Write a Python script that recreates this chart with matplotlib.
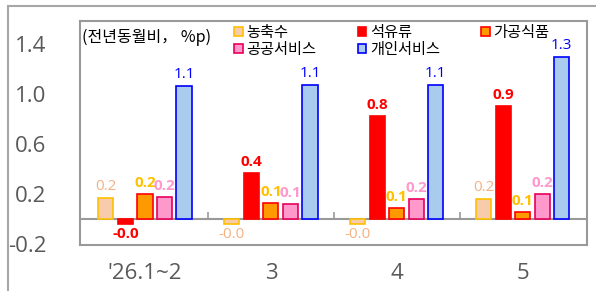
import numpy as np
import matplotlib
matplotlib.use("Agg")
import matplotlib.pyplot as plt
from matplotlib.patches import Rectangle, Patch

plt.rcParams['font.family'] = ['Noto Sans CJK KR', 'DejaVu Sans']
num_font = ['Open Sans', 'DejaVu Sans']

categories = ["'26.1~2", "3", "4", "5"]
series = ["농축수", "석유류", "가공식품", "공공서비스", "개인서비스"]
agri = [0.17, -0.04, -0.04, 0.16]
oil = [-0.04, 0.37, 0.82, 0.90]
food = [0.20, 0.13, 0.09, 0.06]
public = [0.18, 0.12, 0.16, 0.20]
personal = [1.06, 1.07, 1.07, 1.29]
values = [agri, oil, food, public, personal]
yticks = [-0.2, 0.2, 0.6, 1.0, 1.4]

fills = ['#F8CBAD', '#FF0000', '#FF9900', '#FF99CC', '#A9CBEE']
edges = ['#FFC000', '#FF0000', '#FF0000', '#E8005A', '#0000FF']
label_colors = ['#F4B183', '#FF0000', '#FFC000', '#FF99CC', '#0000FF']
label_bold = [False, True, True, True, False]

fig = plt.figure(figsize=(5.96, 2.91), dpi=100)
# outer frame
fig.patches.append(Rectangle((8/596, -0.1), 1.2, 1 - 6/291 + 0.1, transform=fig.transFigure,
                             fill=False, edgecolor='#A6A6A6', linewidth=1.5))
ax = fig.add_axes([80/596, 1 - 245/291, 507/596, 224/291])

x = np.arange(len(categories))
w = 0.12
step = 0.155
for i, (vals, fc, ec, lc, b) in enumerate(zip(values, fills, edges, label_colors, label_bold)):
    pos = x + (i - 2) * step
    ax.bar(pos, vals, w, color=fc, edgecolor=ec, linewidth=1.2, label=series[i], zorder=3)
    for p, v in zip(pos, vals):
        ax.annotate(f"{v:.1f}", (p, v), xytext=(0, 3 if v >= 0 else -2), textcoords='offset points',
                    ha='center', va='bottom' if v >= 0 else 'top', fontsize=11, color=lc,
                    family=num_font, fontweight='bold' if b else 'normal', zorder=4)

ax.axhline(0, color='#999999', linewidth=1.5, zorder=2)
ax.vlines(x[:-1] + 0.5, 0, 0.055, color='#999999', linewidth=1.2, zorder=2)

ax.set_xlim(-0.516, len(categories) - 0.49)
ax.set_ylim(-0.205, 1.58)
ax.set_yticks(yticks)
ax.set_yticklabels([f"{t:.1f}" for t in yticks], family=num_font)
ax.set_xticks(x)
ax.set_xticklabels(categories, family=num_font)
ax.tick_params(axis='y', length=0, pad=24, labelsize=16, labelcolor='#595959')
ax.tick_params(axis='x', length=0, pad=13, labelsize=16, labelcolor='#595959')
for s in ax.spines.values():
    s.set_color('#999999')
    s.set_linewidth(1.5)

ax.text(0.004, 0.965, "(전년동월비， %p)", transform=ax.transAxes, fontsize=11.5, va='top', ha='left')

# row-major legend order for ncol=3
order = [0, 3, 1, 4, 2]
handles = [Patch(facecolor=fills[k], edgecolor=edges[k], linewidth=1.2) for k in order]
ax.legend(handles, [series[k] for k in order], ncol=3, loc='upper left', bbox_to_anchor=(0.283, 1.035),
          frameon=False, fontsize=11, handlelength=0.55, handleheight=0.55, handletextpad=0.25,
          columnspacing=2.7, labelspacing=0.0, borderpad=0.2)

fig.savefig("out.png", dpi=100)
